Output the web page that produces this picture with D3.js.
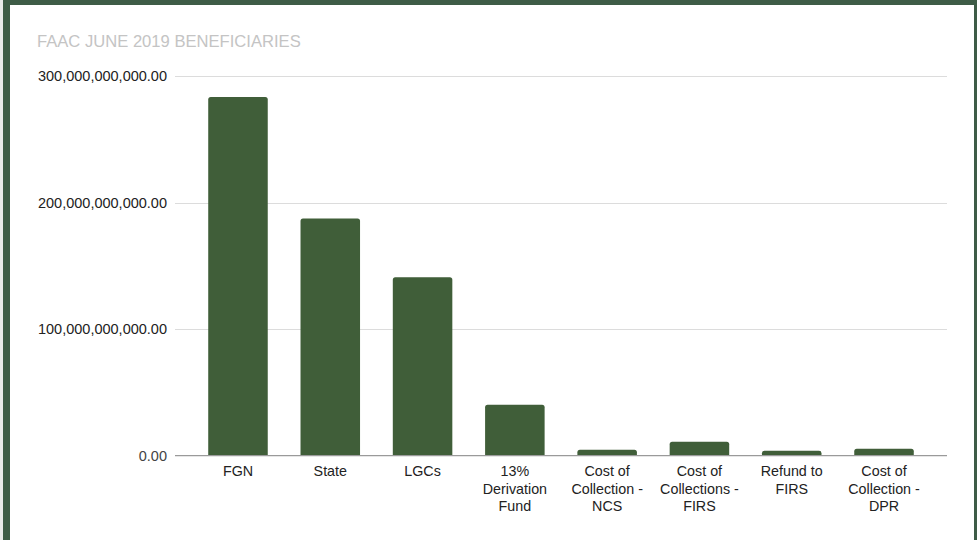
<!DOCTYPE html>
<html>
<head>
<meta charset="utf-8">
<script src="https://cdn.jsdelivr.net/npm/d3@7"></script>
<style>
  body { margin: 0; background: #fff; }
  svg { display: block; font-family: "Liberation Sans", Arial, sans-serif; }
</style>
</head>
<body>
<script>

	// chart values
	var categories = ["FGN", "State", "LGCs", "13% Derivation Fund", "Cost of Collection - NCS",
	    "Cost of Collections - FIRS", "Refund to FIRS", "Cost of Collection - DPR"];
	var labelLines = [["FGN"], ["State"], ["LGCs"], ["13%", "Derivation", "Fund"],
	    ["Cost of", "Collection -", "NCS"], ["Cost of", "Collections -", "FIRS"],
	    ["Refund to", "FIRS"], ["Cost of", "Collection -", "DPR"]];
	var values = [283.5e9, 187.5e9, 141.0e9, 40.2e9, 4.7e9, 11.0e9, 3.9e9, 5.5e9];
	var yTicks = [0, 100e9, 200e9, 300e9];
	var title = "FAAC JUNE 2019 BENEFICIARIES";

	var width = 977, height = 540;
	var plotLeft = 175, plotRight = 947, plotTop = 76, plotBottom = 455.7;

	var svg = d3.select("body")
	    .append("svg")
	    .attr("width", width)
	    .attr("height", height);

	// frame
	svg.append("rect").attr("width", width).attr("height", height).attr("fill", "#e9eaea");
	svg.append("rect").attr("x", 3).attr("width", 974).attr("height", height).attr("fill", "#3e5c47");
	svg.append("rect").attr("x", 10).attr("y", 5).attr("width", 964).attr("height", 535).attr("fill", "#fff");

	svg.append("text")
	    .attr("x", 37).attr("y", 47)
	    .attr("font-size", "16.6px")
	    .attr("fill", "#c4c4c4")
	    .text(title);

	var x = d3.scaleBand()
	    .domain(categories)
	    .range([plotLeft, plotRight])
	    .paddingInner(0.355)
	    .paddingOuter(0.36);

	var y = d3.scaleLinear()
	    .domain([0, 300e9])
	    .range([plotBottom, plotTop]);

	var fmt = d3.format(",.2f");

	// grid + y labels
	var grid = svg.append("g");
	grid.selectAll("line")
	    .data(yTicks.slice(1))
	    .enter()
	    .append("line")
	    .attr("x1", plotLeft).attr("x2", plotRight)
	    .attr("y1", function(d){ return Math.round(y(d)) + 0.5; })
	    .attr("y2", function(d){ return Math.round(y(d)) + 0.5; })
	    .attr("stroke", "#dcdcdc");

	grid.selectAll("text")
	    .data(yTicks)
	    .enter()
	    .append("text")
	    .attr("x", 167)
	    .attr("y", function(d){ return y(d); })
	    .attr("dy", "0.36em")
	    .attr("text-anchor", "end")
	    .attr("font-size", "14.5px")
	    .attr("fill", function(d){ return d == 0 ? "#444" : "#222"; })
	    .text(function(d){ return fmt(d); });

	// bars with rounded tops
	function barPath(x0, w, y0, y1, r) {
	    r = Math.min(r, (y1 - y0) / 2, w / 2);
	    return "M" + x0 + "," + y1 +
	        "V" + (y0 + r) +
	        "Q" + x0 + "," + y0 + " " + (x0 + r) + "," + y0 +
	        "H" + (x0 + w - r) +
	        "Q" + (x0 + w) + "," + y0 + " " + (x0 + w) + "," + (y0 + r) +
	        "V" + y1 + "Z";
	}

	svg.append("g").selectAll("path")
	    .data(values)
	    .enter()
	    .append("path")
	    .attr("fill", "#405e39")
	    .attr("d", function(d, i){
	        return barPath(x(categories[i]), x.bandwidth(), y(d), y(0), 2.5);
	    });

	// baseline
	svg.append("line")
	    .attr("x1", plotLeft).attr("x2", plotRight)
	    .attr("y1", y(0)).attr("y2", y(0))
	    .attr("stroke", "#9a9a9a")
	    .attr("stroke-width", 1.3);

	// x labels
	var xl = svg.append("g").selectAll("text")
	    .data(categories)
	    .enter()
	    .append("text")
	    .attr("text-anchor", "middle")
	    .attr("font-size", "14.3px")
	    .attr("fill", "#222")
	    .attr("transform", function(d){ return "translate(" + (x(d) + x.bandwidth() / 2) + ",476)"; });

	xl.selectAll("tspan")
	    .data(function(d, i){ return labelLines[i]; })
	    .enter()
	    .append("tspan")
	    .attr("x", 0)
	    .attr("y", function(d, j){ return j * 17.5; })
	    .text(function(d){ return d; });

</script>
</body>
</html>
